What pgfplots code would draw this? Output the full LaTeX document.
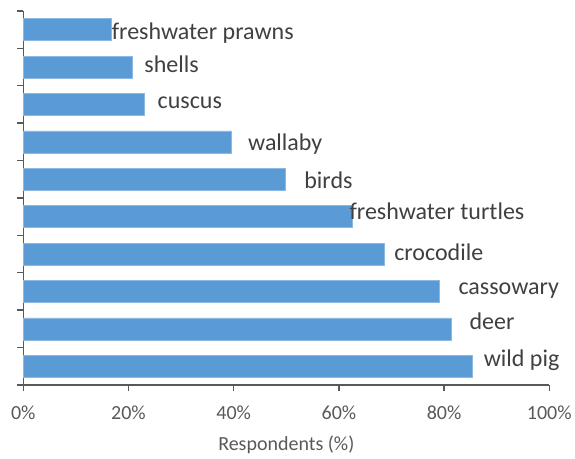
\documentclass[border=0pt]{standalone}
\usepackage{pgfplots}
\pgfplotsset{compat=1.18}
\usepackage{pgfplotstable}
\usepackage{fontspec}
\setmainfont{Carlito}

\definecolor{barblue}{HTML}{5B9BD5}
\definecolor{baredge}{HTML}{8DBAE4}
\definecolor{axisgray}{HTML}{595959}
\definecolor{labelgray}{HTML}{404040}

% pos: row from the bottom; val: share of respondents (%)
% lx, ly: where each label's baseline starts
\pgfplotstableread[col sep=comma]{
pos,val,lx,ly,label
10,16.7,16.8,9.743,freshwater prawns
9,20.8,23.0,8.850,shells
8,23.0,25.5,7.898,cuscus
7,39.5,42.7,6.783,wallaby
6,49.9,53.4,5.759,birds
5,62.5,62.0,4.930,freshwater turtles
4,68.6,70.5,3.842,crocodile
3,79.1,82.7,2.925,cassowary
2,81.4,84.8,1.971,deer
1,85.4,87.5,1.008,wild pig
}\animals

\begin{document}
\begin{tikzpicture}
\useasboundingbox (0,0) rectangle (575bp,459bp);
\begin{axis}[
  at={(23.3bp,74bp)}, anchor=south west,
  scale only axis, width=526bp, height=374bp,
  xmin=0, xmax=100, ymin=0.5, ymax=10.5,
  clip=false,
  axis x line=bottom, axis y line=left,
  axis line style={axisgray, line width=1.4bp, -},
  xtick={0,20,40,60,80,100},
  xticklabels={0\%,20\%,40\%,60\%,80\%,100\%},
  ytick={0.5,1.5,...,10.5}, yticklabels={},
  tick align=outside,
  major tick length=6.5bp,
  tick style={axisgray, line width=1.4bp},
  xticklabel style={anchor=base, yshift=-28bp, text=axisgray,
    font=\fontsize{20bp}{24bp}\selectfont},
  xlabel={Respondents (\%)},
  xlabel style={at={(axis description cs:0.5,0)}, anchor=base,
    yshift=-65.5bp, text=axisgray, font=\fontsize{20bp}{24bp}\selectfont},
]
\addplot[xbar, bar width=22bp, fill=barblue, draw=baredge, line width=0.7bp]
  table[x=val, y=pos] {\animals};
\addplot[draw=none, mark=none,
  nodes near coords, point meta=explicit symbolic,
  nodes near coords align={anchor=base west},
  every node near coord/.append style={anchor=base west, inner sep=0pt,
    text=labelgray, font=\fontsize{24bp}{28bp}\selectfont}]
  table[x=lx, y=ly, meta=label] {\animals};
\end{axis}
\end{tikzpicture}
\end{document}
